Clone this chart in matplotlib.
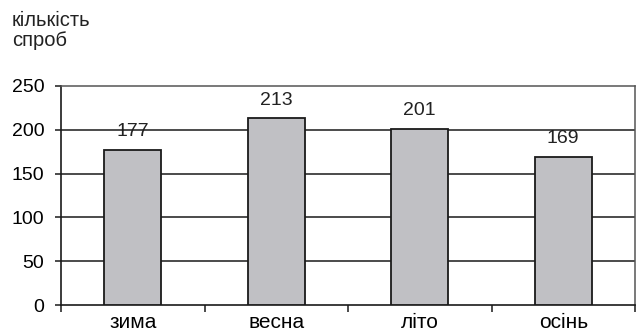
import matplotlib
matplotlib.use("Agg")
import matplotlib.pyplot as plt
import numpy as np

plt.rcParams['font.family'] = ['Liberation Sans', 'DejaVu Sans']

seasons = ["зима", "весна", "літо", "осінь"]
attempts = [177, 213, 201, 169]
y_ticks = [0, 50, 100, 150, 200, 250]
y_title = "кількість\nспроб"

fig = plt.figure(figsize=(6.42, 3.33), dpi=100)
ax = fig.add_axes([61/642, 1 - 305/333, (635-61)/642, (305-86)/333])

x = np.arange(len(seasons))
ax.bar(x, attempts, width=0.4, color="#c0c0c4", edgecolor="#1a1a1a",
       linewidth=1.3, zorder=3)
for xi, v in zip(x, attempts):
    ax.annotate(str(v), (xi, v), xytext=(0, 7), textcoords="offset points",
                ha="center", va="bottom", fontsize=14, color="#222222",
                zorder=0)

ax.set_xlim(-0.5, len(seasons) - 0.5)
ax.set_ylim(0, 250)
ax.set_yticks(y_ticks)
for yt in y_ticks[1:-1]:
    ax.axhline(yt, color="#1a1a1a", linewidth=1.1, zorder=1)

ax.set_xticks(x)
ax.set_xticklabels(seasons, fontsize=15)
ax.set_xticks(np.arange(len(seasons) + 1) - 0.5, minor=True)
ax.tick_params(axis="x", which="major", length=0, pad=6)
ax.tick_params(axis="x", which="minor", length=5, width=1.1, direction="out",
               color="#1a1a1a")
ax.tick_params(axis="y", length=4, width=1.1, labelsize=14, pad=8,
               color="#1a1a1a")

for side in ["left", "bottom"]:
    ax.spines[side].set_color("#1a1a1a")
    ax.spines[side].set_linewidth(1.2)
for side in ["top", "right"]:
    ax.spines[side].set_color("#555555")
    ax.spines[side].set_linewidth(1.1)

fig.text(12/642, 1 - 11/333, y_title, ha="left", va="top", fontsize=14.5,
         linespacing=1.1, color="#222222")

fig.savefig("out.png", dpi=100)
